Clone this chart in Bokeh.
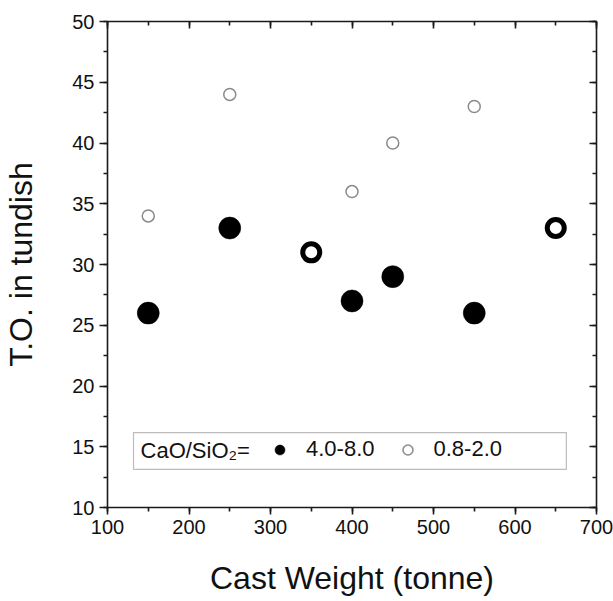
from bokeh.plotting import figure
from bokeh.models import (LinearAxis, SingleIntervalTicker, Legend, LegendItem,
                          Label, BoxAnnotation, Range1d)
from bokeh.embed import file_html
from bokeh.resources import INLINE

# ---- data ----
weight_high = [150, 250, 400, 450, 550]      # CaO/SiO2 = 4.0-8.0 (filled)
to_high = [26, 33, 27, 29, 26]
weight_ring = [350, 650]                      # bold open rings
to_ring = [31, 33]
weight_low = [150, 250, 400, 450, 550]       # CaO/SiO2 = 0.8-2.0 (open grey)
to_low = [34, 44, 36, 40, 43]

x_label = "Cast Weight (tonne)"
y_label = "T.O. in tundish"
legend_title = "CaO/SiO\u2082="
label_high = "4.0-8.0"
label_low = "0.8-2.0"

FONT = "Liberation Sans"
AX = "#1a1a1a"

p = figure(width=613, height=600, output_backend="svg", toolbar_location=None,
           x_range=Range1d(100, 700), y_range=Range1d(10, 50),
           x_axis_type=None, y_axis_type=None,
           min_border_left=107, min_border_right=17, min_border_top=21, min_border_bottom=93)
p.outline_line_color = None
p.xgrid.visible = False
p.ygrid.visible = False
p.background_fill_color = "white"
p.border_fill_color = "white"


def style_axis(ax, labels=True, inside=False):
    ax.axis_line_color = AX
    ax.axis_line_width = 1.6
    ax.major_tick_line_color = AX
    ax.major_tick_line_width = 1.6
    ax.minor_tick_line_color = AX
    ax.minor_tick_line_width = 1.6
    if inside:
        ax.major_tick_in = 7
        ax.major_tick_out = 0
        ax.minor_tick_in = 4
        ax.minor_tick_out = 0
    else:
        ax.major_tick_in = 0
        ax.major_tick_out = 7
        ax.minor_tick_in = 0
        ax.minor_tick_out = 4
    if labels:
        ax.major_label_text_font = FONT
        ax.major_label_text_font_size = "20px"
        ax.major_label_text_color = "#111111"
        ax.major_label_standoff = 5
        ax.axis_label_text_font = FONT
        ax.axis_label_text_font_size = "32px"
        ax.axis_label_text_font_style = "normal"
        ax.axis_label_text_color = "#111111"
    else:
        ax.major_label_text_color = None
        ax.major_label_text_font_size = "1px"
        ax.major_label_standoff = 0


xb = LinearAxis(ticker=SingleIntervalTicker(interval=100, num_minor_ticks=2), axis_label=x_label)
style_axis(xb)
xb.axis_label_standoff = 23
p.add_layout(xb, "below")

yl = LinearAxis(ticker=SingleIntervalTicker(interval=5, num_minor_ticks=2),
                axis_label=y_label)
style_axis(yl)
yl.major_tick_out = 8
yl.axis_label_standoff = 30
p.add_layout(yl, "left")

xt = LinearAxis(ticker=SingleIntervalTicker(interval=100, num_minor_ticks=2))
style_axis(xt, labels=False, inside=True)
p.add_layout(xt, "above")

yr = LinearAxis(ticker=SingleIntervalTicker(interval=5, num_minor_ticks=2))
style_axis(yr, labels=False, inside=True)
p.add_layout(yr, "right")

# ---- glyphs ----
r_low = p.scatter(weight_low, to_low, marker="circle", size=12,
                  fill_color=None, line_color="#8a8a8a", line_width=1.5)
r_high = p.scatter(weight_high, to_high, marker="circle", size=22,
                   fill_color="black", line_color="black", line_width=0.5)
r_ring = p.scatter(weight_ring, to_ring, marker="circle", size=17,
                   fill_color=None, line_color="black", line_width=5)

# ---- legend box ----
box = BoxAnnotation(left=131.9, right=663.0, bottom=13.13, top=16.17,
                    fill_color="white", fill_alpha=1.0,
                    line_color="#222222", line_width=1.2)
p.add_layout(box)

title = Label(x=140.5, y=14.72, text=legend_title, text_font=FONT,
              text_font_size="22px", text_baseline="middle", text_align="left",
              text_color="#111111")
p.add_layout(title)

legend = Legend(items=[LegendItem(label=label_high, renderers=[r_high]),
                       LegendItem(label=label_low, renderers=[r_low])],
                orientation="horizontal", location=(160, 45),
                glyph_width=25, glyph_height=25, padding=0, margin=0,
                spacing=20, label_standoff=14,
                label_text_font=FONT, label_text_font_size="22px",
                label_text_color="#111111",
                border_line_color=None, background_fill_alpha=0)
p.add_layout(legend, "center")

open("out.html", "w").write(file_html(p, INLINE))
